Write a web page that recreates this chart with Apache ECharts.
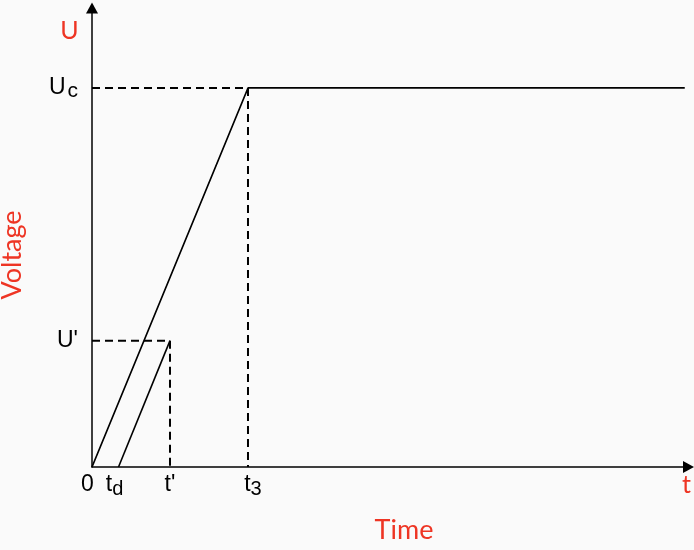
<!DOCTYPE html>
<html>
<head>
<meta charset="utf-8">
<script src="https://cdn.jsdelivr.net/npm/echarts@6/dist/echarts.min.js"></script>
<style>
html,body{margin:0;padding:0;background:#fafafa;}
#c{width:694px;height:550px;}
</style>
</head>
<body>
<div id="c"></div>
<script>
// ---- data ----
const tMain = ['0', 't', "t'", 't'];
const tSub = ['', 'd', '', '3'];
const tValues = [0, 1.7, 5, 10];
const uMain = ["U'", 'U'];
const uSub = ['', 'c'];
const uValues = [1, 3];
const chargeCurve = [[0, 0], [10, 3], [38, 3]];
const delayedCurve = [[1.7, 0], [5, 1]];
const axisNameU = 'U';
const axisNameT = 't';
const titleX = 'Time';
const titleY = 'Voltage';

// ---- layout ----
const tLabelShift = [-4.5, -4, 0, 5];
const xMax = 38.24;
const yMax = 3.633;
const RED = '#ee3524';
const BLACK_FONT = 'Liberation Sans, Arial, sans-serif';
const RED_FONT = 'Lato, Open Sans, sans-serif';

const rich = {
  u: { fontSize: 23, lineHeight: 28, fontFamily: BLACK_FONT, color: '#000' },
  uc: { fontSize: 21, lineHeight: 14, verticalAlign: 'bottom', fontFamily: BLACK_FONT, color: '#000', padding: [0, 0, 0, 2] }
};
tValues.forEach((v, i) => {
  const sh = tLabelShift[i];
  const hasSub = !!tSub[i];
  const padL = sh > 0 ? 2 * sh : 0;
  const padR = sh < 0 ? -2 * sh : 0;
  rich['m' + i] = {
    fontSize: 23, lineHeight: 28, fontFamily: BLACK_FONT, color: '#000',
    padding: [0, hasSub ? 0 : padR, 0, padL]
  };
  rich['s' + i] = {
    fontSize: 20, lineHeight: 16, verticalAlign: 'bottom', fontFamily: BLACK_FONT, color: '#000',
    padding: [0, padR, 0, 0]
  };
});

function fmtT(val) {
  const i = tValues.findIndex(v => Math.abs(v - val) < 1e-6);
  if (i < 0) return '';
  return '{m' + i + '|' + tMain[i] + '}' + (tSub[i] ? '{s' + i + '|' + tSub[i] + '}' : '');
}
function fmtU(val) {
  const i = uValues.findIndex(v => Math.abs(v - val) < 1e-6);
  if (i < 0) return '';
  return '{u|' + uMain[i] + '}' + (uSub[i] ? '{uc|' + uSub[i] + '}' : '');
}

const dashStyle = { color: '#000', width: 2, type: [8, 5] };
const guideEnds = [tValues[2], tValues[3]];
const guides = uValues.map((u, i) => ({
  type: 'line', data: [[0, u], [guideEnds[i], u], [guideEnds[i], 0]], symbol: 'none',
  lineStyle: dashStyle, silent: true, z: 2
}));

const chart = echarts.init(document.getElementById('c'));
chart.setOption({
  backgroundColor: '#fafafa',
  animation: false,
  grid: { left: 92, top: 8, right: 5.5, bottom: 83 },
  xAxis: {
    type: 'value', min: 0, max: xMax,
    axisLine: { show: true, lineStyle: { color: '#000', width: 1.5 }, symbol: ['none', 'triangle'], symbolSize: [12, 11] },
    axisTick: { show: false },
    splitLine: { show: false },
    axisLabel: { customValues: tValues, formatter: fmtT, margin: 4, rich: rich, showMinLabel: true, showMaxLabel: true, hideOverlap: false }
  },
  yAxis: {
    type: 'value', min: 0, max: yMax,
    axisLine: { show: true, lineStyle: { color: '#000', width: 1.5 }, symbol: ['none', 'triangle'], symbolSize: [12, 11] },
    axisTick: { show: false },
    splitLine: { show: false },
    axisLabel: { customValues: uValues, formatter: fmtU, margin: 14, rich: rich, showMinLabel: true, showMaxLabel: true }
  },
  series: guides.concat([
    { type: 'line', data: chargeCurve, symbol: 'none', lineStyle: { color: '#000', width: 1.7 }, z: 3, silent: true },
    { type: 'line', data: delayedCurve, symbol: 'none', lineStyle: { color: '#000', width: 1.6 }, z: 3, silent: true }
  ]),
  graphic: [
    { type: 'text', x: 69.5, y: 30.5, style: { text: axisNameU, fill: RED, fontSize: 25, fontFamily: RED_FONT, align: 'center', verticalAlign: 'middle', textAlign: 'center', textVerticalAlign: 'middle' } },
    { type: 'text', x: 686.5, y: 484.5, style: { text: axisNameT, fill: RED, fontSize: 25, fontFamily: RED_FONT, align: 'center', verticalAlign: 'middle', textAlign: 'center', textVerticalAlign: 'middle' } },
    { type: 'text', x: 404, y: 530, style: { text: titleX, fill: RED, fontSize: 27, fontFamily: RED_FONT, align: 'center', verticalAlign: 'middle', textAlign: 'center', textVerticalAlign: 'middle' } },
    { type: 'text', x: 12, y: 255, rotation: Math.PI / 2, style: { text: titleY, fill: RED, fontSize: 27, fontFamily: RED_FONT, align: 'center', verticalAlign: 'middle', textAlign: 'center', textVerticalAlign: 'middle' } }
  ]
});
</script>
</body>
</html>
